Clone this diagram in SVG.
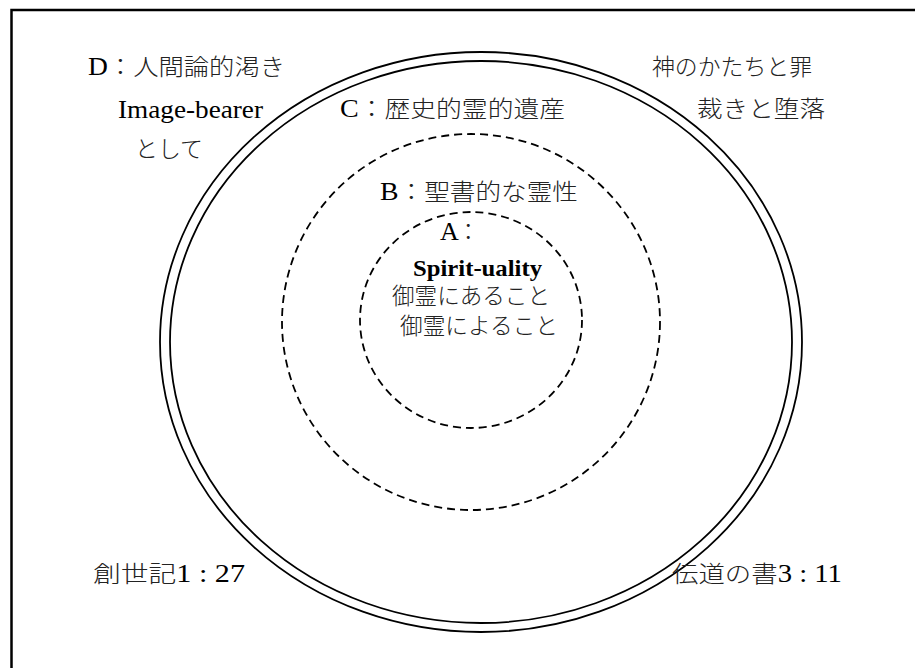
<svg xmlns="http://www.w3.org/2000/svg" width="915" height="668" viewBox="0 0 915 668">
<style>
.t{font-family:'Liberation Serif','Noto Sans CJK JP',serif;font-size:23px;fill:#222}
.j{font-family:'Noto Sans CJK JP','Liberation Serif',sans-serif;font-size:23px;font-weight:300;fill:#222}
.e{font-family:'Liberation Serif','Noto Sans CJK JP',serif;font-size:25px;font-weight:400;fill:#000}
.solid{fill:none;stroke:#000;stroke-width:1.8}
.dash{fill:none;stroke:#000;stroke-width:1.8;stroke-dasharray:8 5}
</style>
<rect width="915" height="668" fill="#fff"/>
<path d="M11.5 668 V10 H915" fill="none" stroke="#000" stroke-width="2.5"/>
<g id="ringD">
<ellipse class="solid" cx="481" cy="342" rx="321" ry="290"/>
<ellipse class="solid" cx="481" cy="342" rx="311" ry="281"/>
</g>
<g id="ringB">
<ellipse class="dash" cx="471" cy="322" rx="189" ry="188"/>
</g>
<g id="ringA">
<ellipse class="dash" cx="471" cy="320" rx="111" ry="108"/>
</g>
<g id="labelD">
<text class="t" x="88" y="75" textLength="197" lengthAdjust="spacingAndGlyphs"><tspan class="e">D</tspan><tspan class="j">：人間論的渇き</tspan></text>
<text class="e" x="118" y="118" style="font-size:26px" textLength="145" lengthAdjust="spacingAndGlyphs">Image-bearer</text>
<text class="j" x="135" y="157" textLength="68" lengthAdjust="spacingAndGlyphs">として</text>
</g>
<g id="labelSin">
<text class="j" x="652" y="75" textLength="160" lengthAdjust="spacingAndGlyphs">神のかたちと罪</text>
<text class="j" x="697" y="117" textLength="128" lengthAdjust="spacingAndGlyphs">裁きと堕落</text>
</g>
<g id="labelC">
<text class="t" x="340" y="117" textLength="225" lengthAdjust="spacingAndGlyphs"><tspan class="e">C</tspan><tspan class="j">：歴史的霊的遺産</tspan></text>
</g>
<g id="labelB">
<text class="t" x="380" y="200" textLength="198" lengthAdjust="spacingAndGlyphs"><tspan class="e">B</tspan><tspan class="j">：聖書的な霊性</tspan></text>
</g>
<g id="labelA">
<text class="t" x="440" y="240"><tspan class="e" style="font-size:26px">A</tspan><tspan class="j" dx="-2">：</tspan></text>
<text class="e" x="413" y="276" style="font-size:24px;font-weight:700" textLength="129" lengthAdjust="spacingAndGlyphs">Spirit-uality</text>
<text class="j" x="392" y="304" textLength="158" lengthAdjust="spacingAndGlyphs">御霊にあること</text>
<text class="j" x="400" y="334" textLength="158" lengthAdjust="spacingAndGlyphs">御霊によること</text>
</g>
<g id="refs">
<text class="t" x="93" y="582" textLength="152" lengthAdjust="spacingAndGlyphs"><tspan class="j">創世記</tspan><tspan class="e">1 : 27</tspan></text>
<text class="t" x="672" y="582" textLength="170" lengthAdjust="spacingAndGlyphs"><tspan class="j">伝道の書</tspan><tspan class="e">3 : 11</tspan></text>
</g>
</svg>
